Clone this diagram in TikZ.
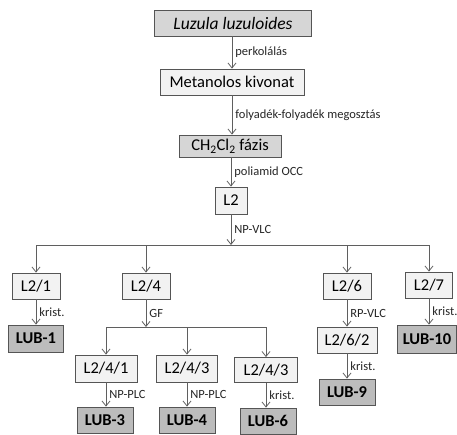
\documentclass[tikz,border=0pt]{standalone}
\usepackage{fontspec}
\setmainfont{Carlito}
\usetikzlibrary{arrows.meta, positioning, calc}

\definecolor{boxlight}{RGB}{242,242,242}
\definecolor{boxmid}{RGB}{214,214,214}
\definecolor{boxdark}{RGB}{188,188,188}
\definecolor{edgegray}{RGB}{85,85,85}
\definecolor{linegray}{RGB}{95,95,95}

\begin{document}
\begin{tikzpicture}[
    x=1pt, y=-1pt,
    >={Straight Barb[length=5pt, width=8pt]},
    fraction/.style={
        draw=edgegray, fill=boxlight, line width=0.8pt, inner sep=0pt,
        minimum height=26pt, font=\fontsize{16.5}{18}\selectfont
    },
    phase/.style={
        fraction, fill=boxmid
    },
    compound/.style={
        fraction, fill=boxdark, font=\fontsize{16.5}{18}\selectfont\bfseries
    },
    flow/.style={
        ->, line width=0.8pt, draw=linegray
    },
    bus/.style={
        line width=0.8pt, draw=linegray
    },
    method/.style={
        right, inner sep=3pt, font=\fontsize{12.5}{14}\selectfont, text=black!85
    }
]
    \useasboundingbox (0,0) rectangle (457,434);

    % Extraction steps
    \node[phase, minimum width=157pt, font=\fontsize{17.5}{19}\selectfont\itshape] (luz) at (233,23) {Luzula luzuloides};
    \node[fraction, minimum width=144pt] (met) at (232,82) {Metanolos kivonat};
    \node[phase, minimum width=102pt, minimum height=22pt] (dcm) at (230,146) {CH\textsubscript{2}Cl\textsubscript{2} fázis};
    \node[fraction, minimum width=32pt, minimum height=27pt] (l2) at (231,200.5) {L2};

    % First split
    \coordinate (split1) at (231,245);
    \node[fraction, minimum width=48pt] (l21) at (36,286) {L2/1};
    \node[fraction, minimum width=48pt] (l24) at (146,286) {L2/4};
    \node[fraction, minimum width=48pt] (l26) at (347,286) {L2/6};
    \node[fraction, minimum width=47pt] (l27) at (429,285) {L2/7};

    % Second split
    \coordinate (split2) at (146,327);
    \node[fraction, minimum width=62pt, minimum height=27pt] (l241) at (106,368.5) {L2/4/1};
    \node[fraction, minimum width=61pt, minimum height=27pt] (l243a) at (187,368.5) {L2/4/3};
    \node[fraction, minimum width=63pt, minimum height=25pt] (l243b) at (266,370) {L2/4/3};
    \node[fraction, minimum width=60pt] (l262) at (347,340) {L2/6/2};

    % Pure compounds
    \node[compound, minimum width=55pt, minimum height=27pt] (lub1) at (36,338.5) {LUB-1};
    \node[compound, minimum width=56pt] (lub3) at (105,420) {LUB-3};
    \node[compound, minimum width=56pt] (lub4) at (187,420) {LUB-4};
    \node[compound, minimum width=56pt] (lub6) at (268,421) {LUB-6};
    \node[compound, minimum width=56pt] (lub9) at (347,392) {LUB-9};
    \node[compound, minimum width=59pt, minimum height=28pt] (lub10) at (427,339) {LUB-10};

    % Main chain
    \draw[flow] (luz.south -| met.south) -- (met.north) node[midway, method] {perkolálás};
    \draw[flow] (met.south) -- (met.south |- dcm.north) node[midway, method] {folyadék-folyadék megosztás};
    \draw[flow] (dcm.south -| l2.north) -- (l2.north) node[midway, method] {poliamid OCC};
    \draw[flow] (l2.south) -- (split1) node[midway, method] {NP-VLC};

    % Branches of L2
    \draw[bus] (l21.north |- split1) -- (l27.north |- split1);
    \foreach \f in {l21, l24, l26, l27}
        \draw[flow] (\f.north |- split1) -- (\f.north);

    \draw[flow] (l21.south) -- (lub1.north) node[midway, method] {krist.};
    \draw[flow] (l24.south) -- (split2) node[midway, method] {GF};
    \draw[flow] (l26.south) -- (l262.north) node[midway, method] {RP-VLC};
    \draw[flow] (l27.south) -- (l27.south |- lub10.north) node[midway, method] {krist.};

    % Branches of L2/4
    \draw[bus] (l241.north |- split2) -- (l243b.north |- split2);
    \foreach \f in {l241, l243a, l243b}
        \draw[flow] (\f.north |- split2) -- (\f.north);

    \draw[flow] (l241.south) -- (l241.south |- lub3.north) node[midway, method] {NP-PLC};
    \draw[flow] (l243a.south) -- (lub4.north) node[midway, method] {NP-PLC};
    \draw[flow] (l243b.south) -- (l243b.south |- lub6.north) node[midway, method] {krist.};
    \draw[flow] (l262.south) -- (lub9.north) node[midway, method] {krist.};

\end{tikzpicture}
\end{document}
